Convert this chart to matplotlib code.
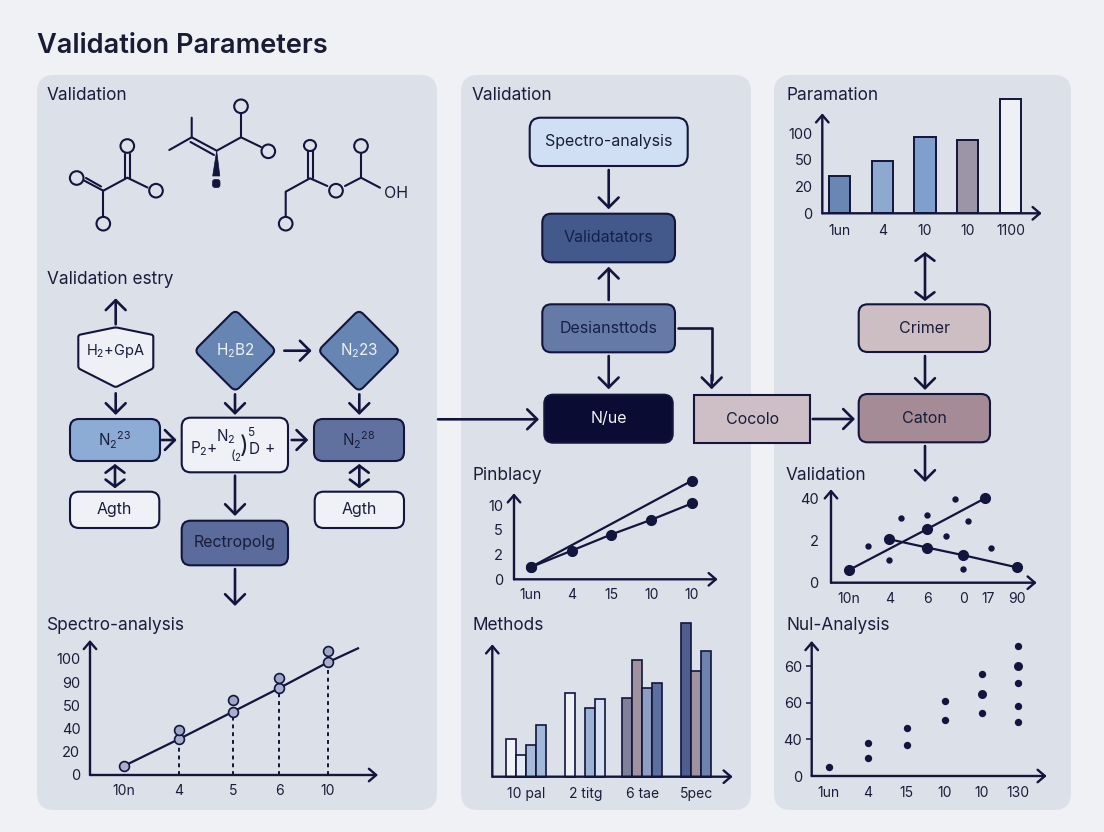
import matplotlib
matplotlib.use("Agg")
import matplotlib.pyplot as plt
from matplotlib.patches import Circle, Ellipse, FancyBboxPatch, PathPatch, Polygon, Rectangle
from matplotlib.path import Path

plt.rcParams["font.family"] = ["Inter", "DejaVu Sans"]
plt.rcParams["mathtext.default"] = "regular"

W, H = 1104, 832
INK = "#12153c"
TEXT = "#1a1d3a"
PAGE = "#eff1f5"
PANEL = "#dce0e8"

# spectro-analysis chart (y values are read against the evenly spaced tick labels)
spec_xticks = [34, 89, 143, 189, 238]
spec_xlabels = ["10n", "4", "5", "6", "10"]
spec_ylabels = ["0", "20", "40", "50", "90", "100"]
spec_line_x = [34, 89, 143, 189, 238, 268]
spec_line_y = [0.39, 1.55, 2.73, 3.74, 4.86, 5.46]
spec_upper_x = [89, 143, 189, 238]
spec_upper_y = [1.95, 3.23, 4.2, 5.34]

# pinblacy chart
pin_xticks = [16.7, 57.7, 97, 137.3, 177.7]
pin_xlabels = ["1un", "4", "15", "10", "10"]
pin_ylabels = ["0", "2", "5", "10"]
pin_lower_y = [0.49, 1.16, 1.81, 2.41, 3.07]
pin_upper_x = [16.7, 177.7]
pin_upper_y = [0.49, 3.99]

# methods chart
meth_xticks = [34, 93, 150, 204]
meth_xlabels = ["10 pal", "2 titg", "6 tae", "5pec"]
meth_heights = [
    [37.3, 21.7, 31.7, 51.7],
    [84, 0, 69, 77.3],
    [79, 116.7, 89, 93.7],
    [154, 105.7, 126],
]
meth_colors = [
    ["#f0f2f7", "#e6eaf3", "#a6bbd9", "#a0b8da"],
    ["#eef0f6", "#dce0e8", "#9db3d6", "#d5e1f3"],
    ["#80809a", "#a0939f", "#8e9ec0", "#5d6f9e"],
    ["#4f5e8e", "#a0939f", "#6e82ae"],
]

# paramation chart
par_xticks = [17.4, 60, 102.7, 145.2, 188.2]
par_xlabels = ["1un", "4", "10", "10", "1100"]
par_ylabels = ["0", "20", "50", "100"]
par_values = [1.4, 1.96, 2.86, 2.75, 4.29]
par_colors = ["#6a86b3", "#8ea9d0", "#7fa0cc", "#9c95a5", "#eef0f5"]

# validation chart
val_xticks = [17.3, 58.3, 96.3, 132.3, 156.7, 186.3]
val_xlabels = ["10n", "4", "6", "0", "17", "90"]
val_ylabels = ["0", "2", "40"]
val_line1_x = [18, 96.3, 154.3]
val_line1_y = [0.3, 1.27, 2.0]
val_line2_x = [57.7, 96.3, 132.3, 186.3]
val_line2_y = [1.03, 0.83, 0.65, 0.36]
val_dots_x = [36.7, 57.7, 69.7, 96.3, 115, 124.3, 137.3, 160.3, 132]
val_dots_y = [0.86, 0.53, 1.53, 1.59, 1.11, 1.98, 1.45, 0.83, 0.33]

# nul-analysis chart
nul_xticks = [16.3, 56.3, 95, 133.3, 170.3, 206.3]
nul_xlabels = ["1un", "4", "15", "10", "10", "130"]
nul_ylabels = ["0", "40", "60", "60"]
nul_x = [17, 56.3, 56.3, 95, 95, 133.3, 133.3, 170.3, 170.3, 206.3, 206.3, 206.3, 206.3]
nul_y = [0.25, 0.9, 0.49, 1.31, 0.85, 2.04, 1.52, 2.79, 1.71, 3.55, 2.54, 1.9, 1.47]
nul_big_x = [170.3, 206.3]
nul_big_y = [2.24, 3.0]


def rounded_poly(points, r):
    verts, codes = [], []
    n = len(points)
    for i in range(n):
        px, py = points[i]
        ax_, ay = points[i - 1]
        bx, by = points[(i + 1) % n]
        la = ((ax_ - px) ** 2 + (ay - py) ** 2) ** 0.5
        lb = ((bx - px) ** 2 + (by - py) ** 2) ** 0.5
        p1 = (px + (ax_ - px) * r / la, py + (ay - py) * r / la)
        p2 = (px + (bx - px) * r / lb, py + (by - py) * r / lb)
        verts += [p1, (px, py), p2]
        codes += [Path.LINETO if i else Path.MOVETO, Path.CURVE3, Path.CURVE3]
    verts.append(verts[0])
    codes.append(Path.CLOSEPOLY)
    return Path(verts, codes)


fig = plt.figure(figsize=(W / 100, H / 100), dpi=100, facecolor=PAGE)
bg = fig.add_axes([0, 0, 1, 1])
bg.set_xlim(0, W)
bg.set_ylim(H, 0)
bg.axis("off")


def box(x0, y0, x1, y1, color, label=None, tcolor=TEXT, size=11.5, r=9, lw=1.5):
    bg.add_patch(FancyBboxPatch((x0 + r, y0 + r), x1 - x0 - 2 * r, y1 - y0 - 2 * r,
                                boxstyle=f"round,pad={r},rounding_size={r}",
                                fc=color, ec=INK, lw=lw))
    if label:
        bg.text((x0 + x1) / 2, (y0 + y1) / 2, label, color=tcolor, fontsize=size,
                ha="center", va="center")


def arrow(x0, y0, x1, y1, style="->", lw=1.9):
    head = "head_length=0.42,head_width=0.42" if style == "->" else "head_length=0.3,head_width=0.4"
    bg.annotate("", xy=(x1, y1), xytext=(x0, y0),
                arrowprops=dict(arrowstyle=f"{style},{head}",
                                color=INK, lw=lw, shrinkA=0, shrinkB=0, mutation_scale=17))


def heading(x, y, label):
    bg.text(x, y, label, fontsize=12.4, color=TEXT, ha="left", va="center")


def line(points, lw=1.5):
    bg.plot([p[0] for p in points], [p[1] for p in points], color=INK, lw=lw,
            solid_capstyle="round", solid_joinstyle="round")


def atom(x, y, r=6.8):
    bg.add_patch(Circle((x, y), r, fc="none", ec=INK, lw=1.5))


def chart(ox, oy, rx, ty, ystep, xticks, xlabels, ylabels=None, pad=(6.5, 7)):
    ax = fig.add_axes([ox / W, 1 - oy / H, (rx - ox) / W, (oy - ty) / H])
    ax.patch.set_alpha(0)
    ax.set_xlim(0, rx - ox)
    ax.set_ylim(0, (oy - ty) / ystep)
    for s in ax.spines.values():
        s.set_visible(False)
    ax.set_xticks(xticks, xlabels)
    if ylabels:
        ax.set_yticks(range(len(ylabels)), ylabels)
    else:
        ax.set_yticks([])
    ax.tick_params(axis="x", length=0, pad=pad[0], labelsize=10, labelcolor=TEXT)
    ax.tick_params(axis="y", length=0, pad=pad[1], labelsize=10.5, labelcolor=TEXT)
    style = "->,head_length=0.35,head_width=0.3"
    for end in [(1, 0), (0, 1)]:
        ax.annotate("", xy=end, xytext=(0, 0), xycoords="axes fraction",
                    arrowprops=dict(arrowstyle=style, color=INK, lw=1.7, shrinkA=0, shrinkB=0,
                                    mutation_scale=15), zorder=5)
    return ax


# page and panels
for x0, x1 in [(37, 437), (461, 751), (774, 1071)]:
    bg.add_patch(FancyBboxPatch((x0 + 17, 75 + 17), x1 - x0 - 34, 735 - 34,
                                boxstyle="round,pad=17,rounding_size=17", fc=PANEL, ec="none"))

bg.text(37, 46, "Validation Parameters", fontsize=19.6, fontweight="semibold", color="#191c33",
        ha="left", va="center")

heading(47, 96, "Validation")
heading(47, 280, "Validation estry")
heading(47, 625, "Spectro-analysis")
heading(472, 96, "Validation")
heading(472, 475, "Pinblacy")
heading(472, 625, "Methods")
heading(786, 96, "Paramation")
heading(786, 475, "Validation")
heading(786, 625, "Nul-Analysis")

# molecules
for a in [(76.7, 178), (127.3, 146), (156, 190.7), (103.3, 223.7)]:
    atom(*a)
line([(103.3, 190.7), (127.3, 177.7), (147.5, 187.5)])
line([(103.3, 190.7), (103.3, 216)])
line([(125.3, 177.7), (125.3, 154)])
line([(129.8, 177.7), (129.8, 154)])
line([(103.3, 190.7), (84, 180.5)])
line([(101, 186.5), (86, 178)])

for a in [(241, 106.3), (268.3, 151.3)]:
    atom(*a)
line([(169.3, 150), (191.7, 137.3), (191.7, 117.7)])
line([(191.7, 137.3), (216.7, 150.7), (241, 137.3), (241, 114)])
line([(190.5, 142), (214, 155)])
line([(241, 137.3), (261, 147)])
bg.add_patch(Polygon([(216.7, 150.7), (212.7, 176), (219.8, 176)], fc=INK, ec=INK, lw=0.5))
bg.add_patch(FancyBboxPatch((214, 181), 4.5, 5, boxstyle="round,pad=1.5,rounding_size=2.5", fc=INK, ec=INK, lw=0.5))

for a in [(336, 190.7), (361, 146), (285.7, 223.7)]:
    atom(*a)
bg.add_patch(Ellipse((310, 145.5), 12, 11, fc="none", ec=INK, lw=1.5))
line([(285.7, 216), (285.7, 191.7), (310, 178.3), (327.3, 186)])
line([(307.5, 178.3), (307.5, 151)])
line([(312.5, 178.3), (312.5, 151)])
line([(345, 186), (361, 177.7), (361, 154)])
line([(361, 177.7), (380, 187.7)])
bg.text(396, 193, "OH", fontsize=11.5, color=TEXT, ha="center", va="center")

# left flow diagram
hexagon = [(78.3, 335), (115.7, 327.3), (153.3, 335), (153.3, 368.3), (115.7, 387.3), (78.3, 368.3)]
bg.add_patch(PathPatch(rounded_poly(hexagon, 2), fc="#eef0f6", ec=INK, lw=1.5))
bg.text(115.7, 351, "H$_2$+GpA", fontsize=10.5, color=TEXT, ha="center", va="center")
for cx, cy, lab in [(235.3, 350.7, "H$_2$B2"), (359, 350.7, "N$_2$23")]:
    d = 41
    bg.add_patch(PathPatch(rounded_poly([(cx, cy - d), (cx + d, cy), (cx, cy + d), (cx - d, cy)], 6),
                           fc="#6685b3", ec=INK, lw=1.5))
    bg.text(cx, cy, lab, fontsize=11, color="#eef1f8", ha="center", va="center")

box(70, 419, 160, 461, "#8cabd5", "N$_2$$^{23}$", size=11)
box(181.7, 417.7, 288, 472.3, "#eff1f6")
box(314, 419, 404, 461, "#61719f", "N$_2$$^{28}$", size=11)
box(70, 491.7, 159.3, 528, "#eff1f6", "Agth", size=11.5)
box(314.7, 491.7, 404, 528, "#eff1f6", "Agth", size=11.5)
box(181.7, 520.7, 288, 565.3, "#5a6b9c", "Rectropolg", size=11.5)

for tx, ty, lab, fs in [(204, 449, "P$_2$+", 11), (226, 436.5, "N$_2$", 11), (233, 456, "(", 9),
                        (238, 457, "$_2$", 10), (244, 447, ")", 17), (250.7, 433, "5", 8.5),
                        (254, 449, "D", 11), (270, 449, "+", 11)]:
    bg.text(tx, ty, lab, fontsize=fs, color=TEXT, ha="center", va="center")

arrow(115.7, 324.3, 115.7, 298.3)
arrow(115.7, 393.3, 115.7, 415)
arrow(235, 394.3, 235, 415)
arrow(284.3, 350.7, 311.7, 350.7)
arrow(359.3, 394.3, 359.3, 415)
arrow(161.7, 440, 176.7, 440)
arrow(291.7, 440, 308.3, 440)
arrow(115, 464, 115, 488.3, "<->")
arrow(359.3, 464, 359.3, 488.3, "<->")
arrow(235, 475.7, 235, 516)
arrow(235, 569, 235, 606)

# middle flow diagram
box(529.7, 117.7, 687.7, 166, "#d0dff3", "Spectro-analysis", r=11)
box(542.3, 213.7, 675, 262.3, "#43598c", "Validatators", tcolor="#15204a")
box(542.3, 304.3, 675, 352.3, "#667aa8", "Desiansttods", tcolor="#15204a")
box(544.3, 394.7, 672.7, 442.7, "#0a0c33", "N/ue", tcolor="#f2f3f8")
bg.add_patch(Rectangle((694.3, 394.7), 116, 48, fc="#cdbfc5", ec=INK, lw=1.5))
bg.text(752.3, 419, "Cocolo", fontsize=11.5, color=TEXT, ha="center", va="center")

arrow(608.7, 170, 608.7, 209.3)
arrow(608.7, 300, 608.7, 266.7)
arrow(608.7, 356, 608.7, 389.3)
line([(678.3, 328.3), (711.7, 328.3), (711.7, 380)], lw=1.9)
arrow(711.7, 375, 711.7, 389.3)
arrow(438, 419.3, 539, 419.3)
arrow(812.7, 419, 855, 419)

# right flow diagram
box(858.7, 304.3, 990, 352, "#cdbec4", "Crimer")
box(858.7, 394, 990, 442.3, "#a58b96", "Caton")
arrow(925, 252, 925, 301, "<->")
arrow(925, 356, 925, 390)
arrow(925, 446, 925, 482)

# spectro-analysis
ax = chart(90, 775, 378, 640, 23.2, spec_xticks, spec_xlabels, spec_ylabels)
ax.plot(spec_line_x, spec_line_y, color=INK, lw=1.6, zorder=2)
ax.vlines(spec_line_x[1:5], 0, spec_line_y[1:5], color=INK, lw=1.4, linestyles=(0, (2, 2)), zorder=1)
ax.scatter(spec_line_x[:5], spec_line_y[:5], s=50, c="#a9afcd", edgecolors=INK, linewidths=1.2, zorder=3, clip_on=False)
ax.scatter(spec_upper_x, spec_upper_y, s=50, c="#a0a6c5", edgecolors=INK, linewidths=1.2, zorder=3, clip_on=False)

# pinblacy
ax = chart(514, 579.3, 717.7, 493.3, 24.7, pin_xticks, pin_xlabels, pin_ylabels, pad=(6.5, 8))
ax.plot(pin_xticks, pin_lower_y, color=INK, lw=1.6, marker="o", ms=7, clip_on=False)
ax.plot(pin_upper_x, pin_upper_y, color=INK, lw=1.6, marker="o", ms=7, clip_on=False)

# methods
ax = chart(492.3, 776.7, 732.7, 644.3, 1, meth_xticks, meth_xlabels, pad=(7.5, 7))
for center, heights, colors in zip(meth_xticks, meth_heights, meth_colors):
    n = len(heights)
    for i in range(n):
        if heights[i] > 0:
            ax.bar(center + (i - (n - 1) / 2) * 10, heights[i], width=10, color=colors[i],
                   edgecolor=INK, linewidth=1.2, clip_on=False)

# paramation
ax = chart(822.3, 213.3, 1041.7, 113.3, 26.67, par_xticks, par_xlabels, par_ylabels, pad=(8, 7))
ax.bar(par_xticks, par_values, width=21.3, color=par_colors, edgecolor=INK, linewidth=1.4, clip_on=False)

# validation
ax = chart(831, 582.7, 1036.7, 489.3, 42.3, val_xticks, val_xlabels, val_ylabels, pad=(6.5, 9))
ax.plot(val_line1_x, val_line1_y, color=INK, lw=1.6, marker="o", ms=7, clip_on=False)
ax.plot(val_line2_x, val_line2_y, color=INK, lw=1.6, marker="o", ms=7, clip_on=False)
ax.scatter(val_dots_x, val_dots_y, s=21, c=INK, clip_on=False, linewidths=0)

# nul-analysis
ax = chart(811.7, 776, 1046.7, 641, 36.6, nul_xticks, nul_xlabels, nul_ylabels, pad=(7, 3))
ax.tick_params(axis="y", length=4, width=1.1, color=INK)
ax.yaxis.get_major_ticks()[0].tick1line.set_visible(False)
ax.scatter(nul_x, nul_y, s=28, c=INK, clip_on=False, linewidths=0)
ax.scatter(nul_big_x, nul_big_y, s=42, c=INK, clip_on=False, linewidths=0)

fig.savefig("out.png", dpi=100, facecolor=PAGE)
plt.close(fig)
